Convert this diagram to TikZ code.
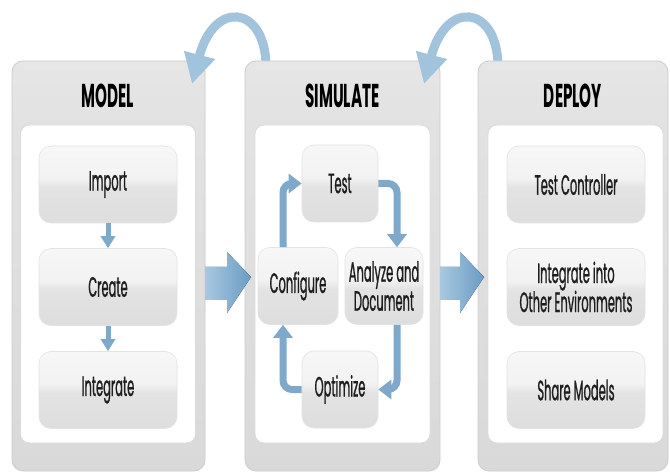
\documentclass[tikz,border=0pt]{standalone}
\usepackage{fontspec}
\setmainfont{Poppins}
\newfontfamily\titlefont[FakeStretch=0.46]{Poppins}
\newfontfamily\boxfont[FakeStretch=0.41, FakeBold=0.8]{Poppins}
\usetikzlibrary{arrows.meta,calc}
\definecolor{loopblue}{HTML}{7EA9CB}
\definecolor{curveblue}{HTML}{A2C3DC}
\definecolor{blockL}{HTML}{A8C8E0}
\definecolor{blockR}{HTML}{6B9BC3}
\definecolor{txt}{HTML}{1E1E1E}
\pgfdeclareverticalshading{boxshade}{100bp}{color(0bp)=(black!16); color(25bp)=(black!13); color(48bp)=(black!11); color(54bp)=(black!5); color(75bp)=(black!3); color(100bp)=(black!6)}
\pgfdeclareverticalshading{panelshade}{100bp}{color(0bp)=(black!17); color(70bp)=(black!11); color(90bp)=(black!6); color(100bp)=(black!10)}
\tikzset{
  panel/.style={draw=gray!40, line width=0.8pt, rounded corners=11pt, shading=panelshade, minimum width=#1, minimum height=410pt, inner sep=0pt},
  inner/.style={draw=gray!28, line width=0.8pt, rounded corners=9pt, fill=white, minimum width=175pt, minimum height=318pt, inner sep=0pt},
  title/.style={font=\titlefont\bfseries\fontsize{33}{33}\selectfont, text=black},
  sub/.style={draw=gray!22, line width=0.6pt, rounded corners=12pt, shading=boxshade, minimum height=77pt, inner sep=0pt, align=center, text=txt, font=\boxfont\fontsize{28}{29}\selectfont},
  wide/.style={sub, minimum width=138pt},
  loopar/.style={draw=loopblue, line width=7pt, rounded corners=9pt, -{Triangle[width=19pt,length=13pt]}},
  downar/.style={draw=loopblue, line width=5pt, -{Triangle[width=14pt,length=12pt]}},
  curvear/.style={draw=curveblue, line width=9pt, -{Triangle[width=30pt,length=30pt]}},
  blockar/.style={left color=blockL, right color=blockR, draw=none}
}
\begin{document}
\begin{tikzpicture}[x=1pt,y=-1pt]
\useasboundingbox[fill=white] (0,0) rectangle (670,473);

% MODEL panel
\node[panel=193pt] (pm) at (108.5,266) {};
% curved arrow SIMULATE -> MODEL
\coordinate (c1s) at (266,64);
\coordinate (c1e) at (192,84);
\draw[curvear] (c1s) .. controls (264,5) and (214,0) .. (c1e);
% SIMULATE panel
\node[panel=195pt] (ps) at (342.5,266) {};
% curved arrow DEPLOY -> SIMULATE
\coordinate (c2s) at (498,64);
\coordinate (c2e) at (424,84);
\draw[curvear] (c2s) .. controls (496,5) and (446,0) .. (c2e);
% DEPLOY panel
\node[panel=190pt] (pd) at (573,266) {};

% inner white areas
\node[inner] (im) at (108,284) {};
\node[inner] (is) at (342.5,284) {};
\node[inner] (id) at (575.5,284) {};

% titles
\node[title] (tm) at (108,96) {MODEL};
\node[title] (ts) at (342.5,96) {SIMULATE};
\node[title] (td) at (573,96) {DEPLOY};

% MODEL boxes
\node[wide] (imp) at (108,184.5) {Import};
\node[wide] (cre) at (108,287) {Create};
\node[wide] (intg) at (108,390) {Integrate};
\draw[downar] (imp.south) -- (cre.north);
\draw[downar] (cre.south) -- (intg.north);

% SIMULATE boxes
\node[sub, minimum width=76pt] (test) at (340,183.5) {Test};
\node[sub, minimum width=80pt] (cfg) at (298,286) {Configure};
\node[sub, minimum width=78pt] (ana) at (384,286) {Analyze and\\Document};
\node[sub, minimum width=76pt] (opt) at (340,389.5) {Optimize};
\draw[loopar] ($(cfg.north)+(-15,0)$) |- (test.west);
\draw[loopar] (test.east) -| ($(ana.north)+(13,0)$);
\draw[loopar] ($(ana.south)+(13,0)$) |- (opt.east);
\draw[loopar] (opt.west) -| ($(cfg.south)+(-15,0)$);

% DEPLOY boxes
\node[wide] (tc) at (576,184.5) {Test Controller};
\node[wide] (ioe) at (576,287) {Integrate into\\Other Environments};
\node[wide] (shm) at (576,390) {Share Models};

% block arrows
\fill[blockar] (205,267) -- (227,267) -- (227,252) -- (251,277) -- (227,313) -- (227,300) -- (205,300) -- cycle;
\fill[blockar] (440,267) -- (460,267) -- (460,252) -- (484,277) -- (460,313) -- (460,300) -- (440,300) -- cycle;
\end{tikzpicture}
\end{document}
